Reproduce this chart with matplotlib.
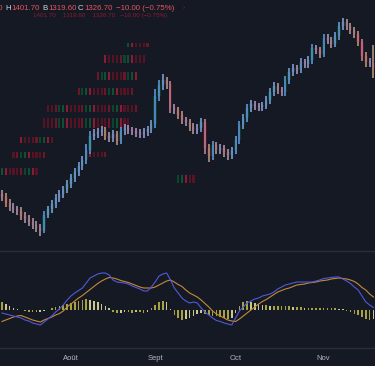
import numpy as np
import pandas as pd
import matplotlib
matplotlib.use("Agg")
import matplotlib.pyplot as plt
import matplotlib.transforms as mtransforms
from matplotlib.colors import LinearSegmentedColormap, Normalize

# ---------------- data ----------------
opens = [1100.0, 1095.4, 1084.6, 1077.4, 1073.8, 1070.2, 1061.2, 1055.8, 1050.4, 1045.0,
         1039.6, 1034.2, 1063.0, 1073.8, 1082.8, 1093.6, 1100.8, 1109.8, 1118.8, 1129.6,
         1140.4, 1151.2, 1162.0, 1180.0, 1205.2, 1208.8, 1212.4, 1216.0, 1205.2, 1201.6,
         1208.8, 1196.2, 1214.2, 1219.6, 1216.0, 1214.2, 1210.6, 1208.8, 1212.4, 1217.8,
         1226.8, 1277.2, 1297.0, 1306.0, 1298.8, 1255.6, 1252.0, 1243.0, 1234.0, 1230.4,
         1221.4, 1216.0, 1219.6, 1230.4, 1183.6, 1169.2, 1189.0, 1180.0, 1183.6, 1176.4,
         1171.0, 1180.0, 1198.0, 1225.0, 1237.6, 1255.6, 1262.8, 1259.2, 1257.4, 1261.0,
         1270.0, 1284.4, 1295.2, 1288.0, 1284.4, 1306.0, 1320.4, 1327.6, 1324.0, 1338.4,
         1334.8, 1342.0, 1363.6, 1360.0, 1352.8, 1381.6, 1378.0, 1370.8, 1385.2, 1403.2,
         1410.4, 1403.2, 1396.0, 1388.8, 1374.4, 1349.2, 1338.4, 1336.7]
closes = [1095.4, 1084.6, 1077.4, 1073.8, 1070.2, 1061.2, 1055.8, 1050.4, 1045.0, 1039.6,
          1034.2, 1063.0, 1073.8, 1082.8, 1093.6, 1100.8, 1109.8, 1118.8, 1129.6, 1140.4,
          1151.2, 1162.0, 1180.0, 1205.2, 1208.8, 1212.4, 1216.0, 1205.2, 1201.6, 1208.8,
          1196.2, 1214.2, 1219.6, 1216.0, 1214.2, 1210.6, 1208.8, 1212.4, 1217.8, 1226.8,
          1277.2, 1297.0, 1306.0, 1298.8, 1255.6, 1252.0, 1243.0, 1234.0, 1230.4, 1221.4,
          1216.0, 1219.6, 1230.4, 1183.6, 1169.2, 1189.0, 1180.0, 1183.6, 1176.4, 1171.0,
          1180.0, 1198.0, 1225.0, 1237.6, 1255.6, 1262.8, 1259.2, 1257.4, 1261.0, 1270.0,
          1284.4, 1295.2, 1288.0, 1284.4, 1306.0, 1320.4, 1327.6, 1324.0, 1338.4, 1334.8,
          1342.0, 1363.6, 1360.0, 1352.8, 1381.6, 1378.0, 1370.8, 1385.2, 1403.2, 1410.4,
          1403.2, 1396.0, 1388.8, 1374.4, 1349.2, 1338.4, 1336.7, 1326.7]
highs = [1108, 1102, 1092, 1085, 1080, 1077, 1068, 1063, 1058, 1052,
         1046, 1070, 1080, 1090, 1100, 1108, 1116, 1126, 1136, 1147,
         1158, 1170, 1190, 1215, 1217, 1220, 1224, 1222, 1212, 1216,
         1214, 1222, 1227, 1225, 1222, 1220, 1217, 1219, 1224, 1234,
         1290, 1306, 1316, 1312, 1304, 1262, 1258, 1250, 1240, 1236,
         1228, 1226, 1238, 1236, 1190, 1196, 1194, 1190, 1189, 1182,
         1186, 1205, 1232, 1245, 1263, 1270, 1268, 1265, 1267, 1277,
         1292, 1303, 1301, 1294, 1314, 1328, 1335, 1333, 1346, 1344,
         1349, 1371, 1369, 1366, 1389, 1388, 1384, 1393, 1411, 1418,
         1416, 1409, 1402, 1395, 1380, 1356, 1346, 1369]
lows = [1088, 1078, 1070, 1067, 1063, 1054, 1049, 1043, 1038, 1032,
        1026, 1030, 1057, 1067, 1076, 1087, 1094, 1103, 1112, 1123,
        1133, 1144, 1155, 1173, 1198, 1202, 1205, 1198, 1194, 1195,
        1189, 1190, 1207, 1209, 1207, 1204, 1202, 1202, 1206, 1211,
        1220, 1268, 1288, 1290, 1246, 1244, 1236, 1227, 1223, 1214,
        1208, 1209, 1213, 1172, 1158, 1162, 1172, 1173, 1168, 1162,
        1164, 1173, 1191, 1218, 1230, 1248, 1252, 1250, 1251, 1254,
        1263, 1277, 1281, 1277, 1278, 1299, 1313, 1317, 1318, 1328,
        1328, 1335, 1353, 1346, 1347, 1371, 1364, 1365, 1378, 1396,
        1396, 1389, 1382, 1367, 1340, 1330, 1329, 1310]

macd = [-3, -4, -5, -6, -7, -8, -10, -11, -13, -14,
        -15, -12, -9, -6, -2, 1, 5, 10, 14, 17,
        19.5, 22, 27, 32, 34, 36, 37, 37, 35, 30,
        28, 27.5, 27, 26, 24, 22.5, 21, 19, 19, 23,
        28, 34, 36, 37, 30, 22, 17, 12, 9, 7,
        8, 7, 2, -2, -5, -8, -10.5, -11.5, -13, -14,
        -15, -8, -1, 3, 7, 9, 11, 12, 14, 15,
        16, 18, 21, 23, 25, 26, 27, 28, 28, 28,
        28, 28, 29, 30, 31.5, 32, 32.5, 33, 33, 31,
        29, 26.5, 23, 20, 14, 8, 5, 2.5]
signal = [-11.5, -10, -8.5, -7, -6, -5.5, -7, -8.5, -10, -11,
          -12, -10, -8.5, -7, -5, -3.5, -1, 3, 6, 9,
          12, 14.5, 17.5, 20.5, 23.5, 26.5, 29, 31, 32.5, 32,
          31, 29.5, 28.5, 27.5, 26, 24.5, 23, 22, 22, 22,
          23, 25, 27, 29, 30, 28, 25.5, 23.5, 20, 17,
          15, 13, 10, 6.5, 3, -1, -4, -6, -8, -10,
          -11, -11.5, -9, -6, -3, 0, 3, 6, 8.5, 10.5,
          13, 15.5, 18, 19.5, 21, 22, 23.5, 25, 25.5, 26,
          27, 27.5, 28, 29, 29.5, 30, 31, 31.5, 32, 31.5,
          31, 30, 28.5, 26, 22.5, 20, 16, 13]
hist = [8, 6, 4, 2, 1, 0.5, -1, -2, -2, -2,
        -1.5, -1, 0.5, 2, 3, 4, 5, 6, 7, 8,
        9, 10, 11, 10, 9, 8, 6, 4, 2, -2,
        -3, -2.5, -2, -2, -2.5, -2, -2, -3, -2, 2,
        5, 8, 9, 8, 1, -5, -8, -10, -9, -8,
        -6, -4, -3, -4, -5, -6, -6, -7, -8, -9,
        -8, -3, 4, 8, 9, 8, 7, 6, 5, 5,
        4, 4, 4, 4, 4, 4, 3, 3, 3, 2,
        2, 2, 2, 2, 2, 2, 2, 2, 1.5, 1,
        -1, -2, -4, -5, -7, -9, -10, -9]

# ghost rows drawn in the upper-left of the price pane: (low, high, first bar, last bar)
ghost_lo = [1365, 1337, 1306, 1279, 1248, 1220, 1193, 1167, 1166, 1135, 1120]
ghost_hi = [1373, 1351, 1320, 1292, 1261, 1238, 1203, 1176, 1176, 1148, 1135]
ghost_i0 = [33, 27, 25, 20, 12, 11, 5, 23, 3, 0, 46]
ghost_i1 = [38, 37, 35, 34, 35, 33, 13, 27, 11, 9, 50]

month_names = {8: "Août", 9: "Sept", 10: "Oct", 11: "Nov"}
header_open = "O1336.70"
header_parts = [("H", "1401.70"), ("B", "1319.60"), ("C", "1326.70")]
header_change = "−10.00 (−0.75%)"

# ---------------- styling ----------------
BG = "#151924"
W, H = 375, 366
fig = plt.figure(figsize=(W / 100, H / 100), dpi=100, facecolor=BG)

ax = fig.add_axes([0, (H - 251) / H, 1, 251 / H])
axm = fig.add_axes([0, (H - 348) / H, 1, 97 / H])
for a in (ax, axm):
    a.set_facecolor(BG)
    a.axis("off")
    a.set_xlim(-0.52, 97.4)
ax.set_ylim(998.2, 1450)
axm.set_ylim(-38, 59)

dates = pd.bdate_range("2024-07-08", periods=len(closes))
x = np.arange(len(closes))
o = np.array(opens); c = np.array(closes); h = np.array(highs); l = np.array(lows)

# ghost rows
ghost_cols = ["#561324", "#0d5034", "#6e1628", "#561324", "#8c1a30", "#0b4530", "#561324"]
for lo, hi, i0, i1 in zip(ghost_lo, ghost_hi, ghost_i0, ghost_i1):
    for i in range(i0, i1 + 1):
        ax.bar(i, hi - lo, bottom=lo, width=0.55,
               color=ghost_cols[(i * 3 + int(lo)) % len(ghost_cols)], linewidth=0, zorder=1)

# candle bodies (dark wide) and bright thin bars
up = c >= o
body_col = np.where(up, "#0d3a2e", "#471428")
ax.bar(x, np.maximum(np.abs(c - o), 2), bottom=np.minimum(o, c), width=0.9,
       color=body_col, linewidth=0, zorder=2)
cmap = LinearSegmentedColormap.from_list(
    "tv", ["#c98a98", "#c49f78", "#aa9ee2", "#7ea8ea", "#5f9de8"])
norm = Normalize(-22, 22)
wick_col = cmap(norm(c - o))
ax.vlines(x, l, h, colors=wick_col, lw=1.1, zorder=3)

# MACD pane
hist_a = np.array(hist)
grow = np.abs(hist_a) >= np.abs(np.concatenate([[hist_a[0]], hist_a[:-1]]))
hcol = np.where(grow, "#a8a342", "#c9c68e")
axm.bar(x, hist_a, width=0.42, color=hcol, linewidth=0, zorder=2)
axm.plot(x, signal, color="#c48a38", lw=0.8, zorder=3)
axm.plot(x, macd, color="#5059d8", lw=0.8, zorder=4)

# separators
for yp in (251, 348):
    fig.add_artist(plt.Line2D([0, 1], [1 - yp / H, 1 - yp / H], transform=fig.transFigure,
                              color="#2a2e39", lw=1.0))

# month labels
trans = mtransforms.blended_transform_factory(axm.transData, fig.transFigure)
months = dates.month
for i in range(1, len(dates)):
    if months[i] != months[i - 1] and months[i] in month_names:
        axm.text(i, 1 - 358 / H, month_names[months[i]], transform=trans, ha="center",
                 va="center", color="#b2b5be", fontsize=5.5,
                 family=["Liberation Sans", "DejaVu Sans"], clip_on=False)

# header
FN = ["Liberation Sans Narrow", "Liberation Sans", "DejaVu Sans"]
red = "#e5535f"
lab = "#d1d4dc"
def px(xp, yp):
    return xp / W, 1 - yp / H
fig.text(*px(3, 8.5), header_open, ha="right", va="center", color=red, fontsize=5.7, family=FN)
xs = [(5, 11), (42, 48), (78, 84)]
for (lx, vx), (k, v) in zip(xs, header_parts):
    fig.text(*px(lx, 8.5), k, ha="left", va="center", color=lab, fontsize=5.7, family=FN)
    fig.text(*px(vx, 8.5), v, ha="left", va="center", color=red, fontsize=5.7, family=FN)
fig.text(*px(116, 8.5), header_change, ha="left", va="center", color=red, fontsize=5.7, family=FN)
fig.text(*px(33, 16), "1401.70    1319.60    1326.70   −10.00 (−0.75%)", ha="left",
         va="center", color="#8a1c2e", fontsize=4.5, family=FN)
fig.text(*px(183, 8.5), "›", ha="left", va="center", color="#8a1c2e", fontsize=5, family=FN)

fig.savefig("out.png", dpi=100, facecolor=BG)
